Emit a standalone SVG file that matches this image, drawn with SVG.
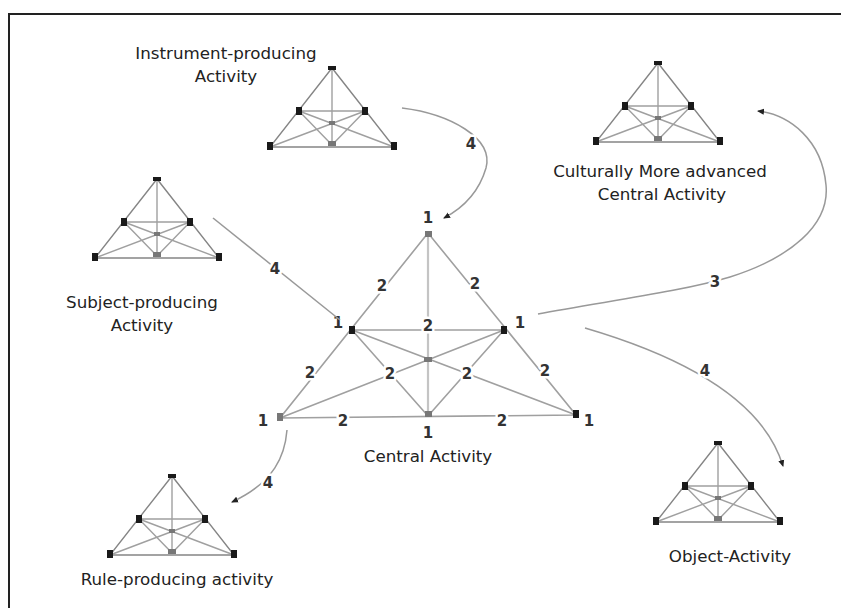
<svg xmlns="http://www.w3.org/2000/svg" xmlns:xlink="http://www.w3.org/1999/xlink" width="841" height="608" viewBox="0 0 841 608">
<style>
.frame{fill:none;stroke:#222;stroke-width:2}
.tl{stroke:#858585;stroke-width:1.4;fill:none}
.tl2{stroke:#a0a0a0;stroke-width:1.4;fill:none}
.cl{stroke:#a0a0a0;stroke-width:1.6;fill:none}
.cv{stroke:#c4c4c4;stroke-width:2.2;fill:none}
.dot{fill:#1a1a1a}
.gdot{fill:#777}
.conn{stroke:#999;stroke-width:1.5;fill:none}
.lbl{font-family:"DejaVu Sans",Verdana,sans-serif;font-size:16.7px;fill:#222;text-anchor:middle}
.num{font-family:"DejaVu Sans",Verdana,sans-serif;font-size:15px;font-weight:bold;fill:#333;text-anchor:middle;stroke:#fff;stroke-width:5;paint-order:stroke;stroke-linejoin:round}
</style>
<defs>
<marker id="ah" markerWidth="7" markerHeight="7" refX="6" refY="3.5" orient="auto" markerUnits="userSpaceOnUse">
<path d="M0,0.5 L7,3.5 L0,6.5 z" fill="#222"/>
</marker>
<g id="mini">
<path class="tl" d="M0,0 L-62,79 L62,79 Z"/>
<path class="tl2" d="M-33,43 L33,43 M0,0 L0,77 M-33,43 L62,79 M33,43 L-62,79 M-33,43 L0,77 M33,43 L0,77"/>
<rect class="dot" x="-4" y="-2" width="8" height="4"/>
<rect class="dot" x="-36" y="39" width="6" height="8"/>
<rect class="dot" x="30" y="39" width="6" height="8"/>
<rect class="dot" x="-65" y="74" width="6" height="8"/>
<rect class="dot" x="59" y="74" width="6" height="8"/>
<rect class="gdot" x="-4" y="73" width="8" height="5"/>
<rect class="gdot" x="-3" y="53" width="6" height="4"/>
</g>
</defs>
<rect width="841" height="608" fill="#fff"/>
<path class="frame" d="M9,608 L9,14 L841,14"/>

<g id="instrument-producing">
<use xlink:href="#mini" x="332" y="68"/>
<text class="lbl" x="226" y="59">Instrument-producing</text>
<text class="lbl" x="226" y="82">Activity</text>
</g>

<g id="culturally-advanced">
<use xlink:href="#mini" x="658" y="63"/>
<text class="lbl" x="660" y="177">Culturally More advanced</text>
<text class="lbl" x="662" y="200">Central Activity</text>
</g>

<g id="subject-producing">
<use xlink:href="#mini" x="157" y="179"/>
<text class="lbl" x="142" y="308">Subject-producing</text>
<text class="lbl" x="142" y="331">Activity</text>
</g>

<g id="rule-producing">
<use xlink:href="#mini" x="172" y="476"/>
<text class="lbl" x="177" y="585">Rule-producing activity</text>
</g>

<g id="object-activity">
<use xlink:href="#mini" x="718" y="443"/>
<text class="lbl" x="730" y="562">Object-Activity</text>
</g>

<g id="central-activity">
<path class="cv" d="M428,233 L428,416"/>
<path class="cl" d="M428,233 L280,418 L576,415 Z M352,330 L504,330 M352,330 L576,415 M504,330 L280,418 M352,330 L428,416 M504,330 L428,416"/>
<rect class="gdot" x="425" y="231" width="7" height="6"/>
<rect class="dot" x="349" y="326" width="6" height="8"/>
<rect class="dot" x="501" y="326" width="6" height="8"/>
<rect class="gdot" x="277" y="413" width="6" height="8"/>
<rect class="dot" x="573" y="410" width="6" height="8"/>
<rect class="gdot" x="425" y="411" width="7" height="6"/>
<rect class="gdot" x="424" y="357" width="8" height="5"/>
<text class="num" x="382" y="291">2</text>
<text class="num" x="475" y="289">2</text>
<text class="num" x="428" y="331">2</text>
<text class="num" x="310" y="378">2</text>
<text class="num" x="545" y="376">2</text>
<text class="num" x="390" y="379">2</text>
<text class="num" x="467" y="379">2</text>
<text class="num" x="343" y="426">2</text>
<text class="num" x="502" y="426">2</text>
<text class="num" x="428" y="223">1</text>
<text class="num" x="338" y="328">1</text>
<text class="num" x="520" y="328">1</text>
<text class="num" x="263" y="426">1</text>
<text class="num" x="589" y="426">1</text>
<text class="num" x="428" y="438">1</text>
<text class="lbl" x="428" y="462">Central Activity</text>
</g>

<g id="connectors">
<path class="conn" d="M402,108 C450,114 494,138 486,168 C479,192 463,208 444,218" marker-end="url(#ah)"/>
<path class="conn" d="M213,218 L340,320"/>
<path class="conn" d="M538,314 C600,302 680,292 730,277 C790,258 830,225 826,185 C822,140 790,115 758,111" marker-end="url(#ah)"/>
<path class="conn" d="M585,328 C660,350 760,390 783,466" marker-end="url(#ah)"/>
<path class="conn" d="M287,430 C285,455 275,482 232,502" marker-end="url(#ah)"/>
<text class="num" x="471" y="149">4</text>
<text class="num" x="275" y="274">4</text>
<text class="num" x="268" y="488">4</text>
<text class="num" x="705" y="376">4</text>
<text class="num" x="715" y="287">3</text>
</g>
</svg>
